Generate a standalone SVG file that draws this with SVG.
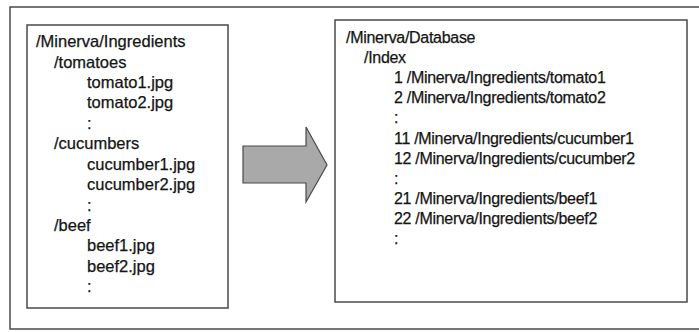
<svg xmlns="http://www.w3.org/2000/svg" width="699" height="332" viewBox="0 0 699 332">
<style>
.frame{fill:#ffffff;stroke:#4a4a4a;stroke-width:1.5}
.box{fill:#ffffff;stroke:#4a4a4a;stroke-width:1.5}
.t{font-family:"Liberation Sans",Arial,sans-serif;font-size:16px;fill:#141414;stroke:#141414;stroke-width:0.25}
.l{font-size:16.5px}
.r{letter-spacing:-0.3px}
.arrow{fill:#a9a9a9;stroke:#4a4a4a;stroke-width:1.2}
</style>
<rect width="699" height="332" fill="#ffffff"/>
<rect class="frame" x="10" y="7" width="700" height="322"/>
<g id="ingredients">
<rect class="box" x="27" y="25" width="201" height="283"/>
<text class="t l" x="36" y="47">/Minerva/Ingredients</text>
<text class="t l" x="54" y="67.5">/tomatoes</text>
<text class="t l" x="87" y="88">tomato1.jpg</text>
<text class="t l" x="87" y="108">tomato2.jpg</text>
<text class="t l" x="87" y="128.5">:</text>
<text class="t l" x="54" y="149">/cucumbers</text>
<text class="t l" x="87" y="169.5">cucumber1.jpg</text>
<text class="t l" x="87" y="190">cucumber2.jpg</text>
<text class="t l" x="87" y="210.5">:</text>
<text class="t l" x="54" y="231">/beef</text>
<text class="t l" x="87" y="251">beef1.jpg</text>
<text class="t l" x="87" y="271.5">beef2.jpg</text>
<text class="t l" x="87" y="292">:</text>
</g>
<g id="database">
<rect class="box" x="335" y="20" width="352" height="282"/>
<text class="t r" x="346" y="43">/Minerva/Database</text>
<text class="t r" x="364" y="63">/Index</text>
<text class="t r" x="394" y="83">1 /Minerva/Ingredients/tomato1</text>
<text class="t r" x="394" y="103">2 /Minerva/Ingredients/tomato2</text>
<text class="t r" x="394" y="123">:</text>
<text class="t r" x="394" y="144">11 /Minerva/Ingredients/cucumber1</text>
<text class="t r" x="394" y="164">12 /Minerva/Ingredients/cucumber2</text>
<text class="t r" x="394" y="184">:</text>
<text class="t r" x="394" y="204">21 /Minerva/Ingredients/beef1</text>
<text class="t r" x="394" y="224">22 /Minerva/Ingredients/beef2</text>
<text class="t r" x="394" y="244">:</text>
</g>
<g id="connectors">
<polygon class="arrow" points="243,146 306,146 306,127 327,165 306,202 306,183 243,183"/>
</g>
</svg>
